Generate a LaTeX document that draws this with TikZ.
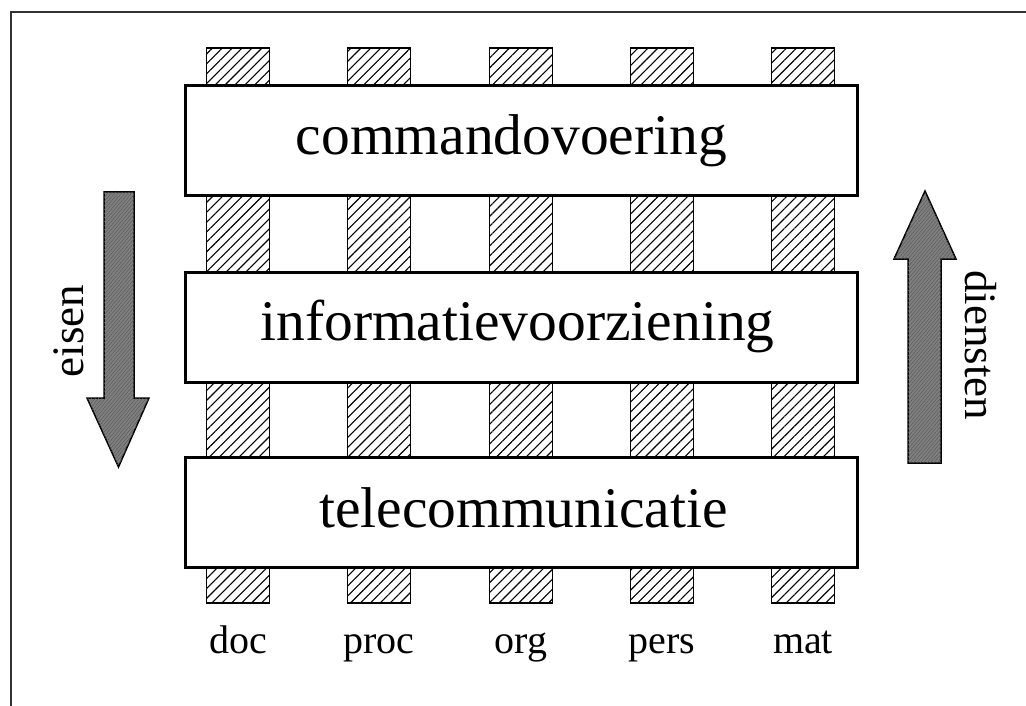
\documentclass[tikz,border=0pt]{standalone}
\usepackage{fontspec}
\setmainfont{Liberation Serif}
\usetikzlibrary{patterns.meta}
\begin{document}
\begin{tikzpicture}[x=1pt,y=-1pt,
  layerbox/.style={draw=black, line width=3pt, fill=white, minimum width=672pt, minimum height=110pt, inner sep=0pt},
  layertext/.style={anchor=base, inner sep=0pt, font=\fontsize{57.5}{60}\selectfont},
  pillar/.style={draw=black, line width=1.8pt, fill=white, pattern={Lines[angle=45,distance=7pt,line width=1.1pt]}},
  bigarrow/.style={draw=black, line width=1.5pt, fill=black!50,
    postaction={pattern={Lines[angle=50,distance=2.6pt,line width=0.5pt]}, pattern color=black!65}},
  collabel/.style={anchor=base, inner sep=0pt, font=\fontsize{40}{44}\selectfont},
  sidelabel/.style={anchor=base, inner sep=0pt, font=\fontsize{45}{48}\selectfont}
]
\useasboundingbox (0,0) rectangle (1026,706);
\fill[white] (0,0) rectangle (1026,706);
% frame
\draw[line width=2.4pt, black!80] (11,720) -- (11,12) -- (1040,12);

% pillars
\foreach \cx/\nm in {238/doc,379/proc,521/org,662/pers,803/mat}{
  \fill[white] (\cx-31.5,48) rectangle (\cx+31.5,603);
  \draw[pillar] (\cx-31.5,48) rectangle (\cx+31.5,603);
  \node[collabel] (lab\nm) at (\cx,653) {\nm};
}

% layers
\node[layerbox] (cmd) at (521,141) {};
\node[layerbox] (info) at (521,327) {};
\node[layerbox] (tele) at (521,512.5) {};
\node[layertext] (cmdt) at (511.5,155) {commandovoering};
\node[layertext] (infot) at (517.5,340) {informatievoorziening};
\node[layertext] (telet) at (523.5,527) {telecommunicatie};

% arrows
\draw[bigarrow] (104,192) -- (134,192) -- (134,398) -- (149,398) -- (118.5,467)
  -- (87,398) -- (104,398) -- cycle;
\draw[bigarrow] (908,463) -- (941,463) -- (941,259) -- (956,259) -- (925,191)
  -- (894,259) -- (908,259) -- cycle;

\node[sidelabel, rotate=90] (eisen) at (83,331) {eisen};
\node[sidelabel, rotate=-90] (diensten) at (965,345) {diensten};
\end{tikzpicture}
\end{document}
